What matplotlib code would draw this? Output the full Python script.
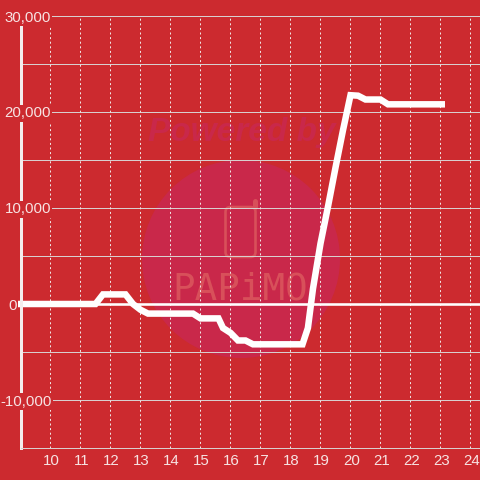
import matplotlib
matplotlib.use("Agg")
import matplotlib.pyplot as plt
from matplotlib.patches import Circle, FancyBboxPatch
from matplotlib.transforms import ScaledTranslation

hours = [8.883, 11.5, 11.75, 12.5, 12.75, 13.0, 13.25, 14.75, 15.0, 15.6, 15.75, 16.0, 16.25,
         16.5, 16.75, 18.4, 18.58, 18.75, 19.0, 19.25, 19.5, 19.75, 20.0, 20.25, 20.5,
         21.0, 21.25, 23.15]
values = [0, 0, 1000, 1000, 0, -600, -1000, -1000, -1500, -1500, -2500, -3000, -3800,
          -3800, -4200, -4200, -2500, 1600, 6300, 10150, 14200, 18100, 21750, 21700, 21300,
          21300, 20800, 20800]
x_ticks = list(range(10, 25))
y_ticks = [-10000, 0, 10000, 20000, 30000]
y_labels = ["-10,000", "0", "10,000", "20,000", "30,000"]
y_label_right_px = [52, 17, 51, 51, 51]
y_grid = [-10000, -5000, 5000, 10000, 15000, 20000, 25000, 30000]

BG = "#CC2A2F"
TXT = "#F7E3E3"
GRID = "#D8CFCF"
px = 72 / 100

plt.rcParams["font.family"] = ["Liberation Sans", "DejaVu Sans"]
fig = plt.figure(figsize=(4.8, 4.8), dpi=100, facecolor=BG)

# watermark layer, in pixel coordinates
wm = fig.add_axes([0, 0, 1, 1], zorder=0)
wm.set_xlim(0, 480)
wm.set_ylim(480, 0)
wm.axis("off")
WM = "#D8505A"
wm.add_patch(Circle((241, 259), 99, fc="#C9284A", ec="none"))
wm.text(242, 133, "Powered by", fontsize=24, fontweight="bold", fontstyle="italic",
        color="#C9284A", ha="center", va="center")
wm.add_patch(FancyBboxPatch((225.5, 207), 30, 50, boxstyle="round,pad=0,rounding_size=5",
                            fc="none", ec=WM, lw=2.6 * px))
wm.plot([254.5, 254.5], [207, 201], color=WM, lw=5 * px, solid_capstyle="round")
wm.text(240, 289, "PAPiMO", fontsize=27, color=WM, ha="center", va="center",
        fontfamily="DejaVu Sans Mono")

ax = fig.add_axes([20.5 / 480, 32 / 480, 459.5 / 480, 432 / 480], zorder=1)
ax.patch.set_alpha(0)
ax.set_xlim(9, 24.317)
ax.set_ylim(-15000, 30000)

ax.hlines(y_grid, 9, 24.317, color=GRID, lw=1 * px, zorder=1, clip_on=False)
ax.vlines(x_ticks, -15000, 30000, color="#F0E4E4", lw=1 * px, linestyles=(0, (2, 2.6)), zorder=1)
ax.hlines([0], 8.883, 24.317, color="white", lw=2.6 * px, zorder=1.5, clip_on=False)
ax.plot(hours, values, color="white", lw=6.5 * px, solid_joinstyle="miter",
        solid_capstyle="butt", zorder=2, clip_on=False)

for side in ("top", "right"):
    ax.spines[side].set_visible(False)
ax.spines["left"].set_color("#F4EDED")
ax.spines["left"].set_linewidth(3 * px)
ax.spines["bottom"].set_color(GRID)
ax.spines["bottom"].set_linewidth(1 * px)

ax.set_xticks(x_ticks)
ax.set_yticks([])
ax.tick_params(axis="x", length=0, labelsize=10.8, labelcolor=TXT, pad=4)
shift = ScaledTranslation(1 / 100, 0, fig.dpi_scale_trans)
for lab in ax.get_xticklabels():
    lab.set_transform(lab.get_transform() + shift)

for val, text, right in zip(y_ticks, y_labels, y_label_right_px):
    ax.annotate(text, xy=(0, val), xycoords=("axes fraction", "data"),
                xytext=((right - 20.5) * px, 0), textcoords="offset points",
                ha="right", va="center_baseline", fontsize=10.8, color=TXT, zorder=5,
                bbox=dict(facecolor=BG, edgecolor="none", pad=1.0))

fig.savefig("out.png", dpi=100, facecolor=BG)
